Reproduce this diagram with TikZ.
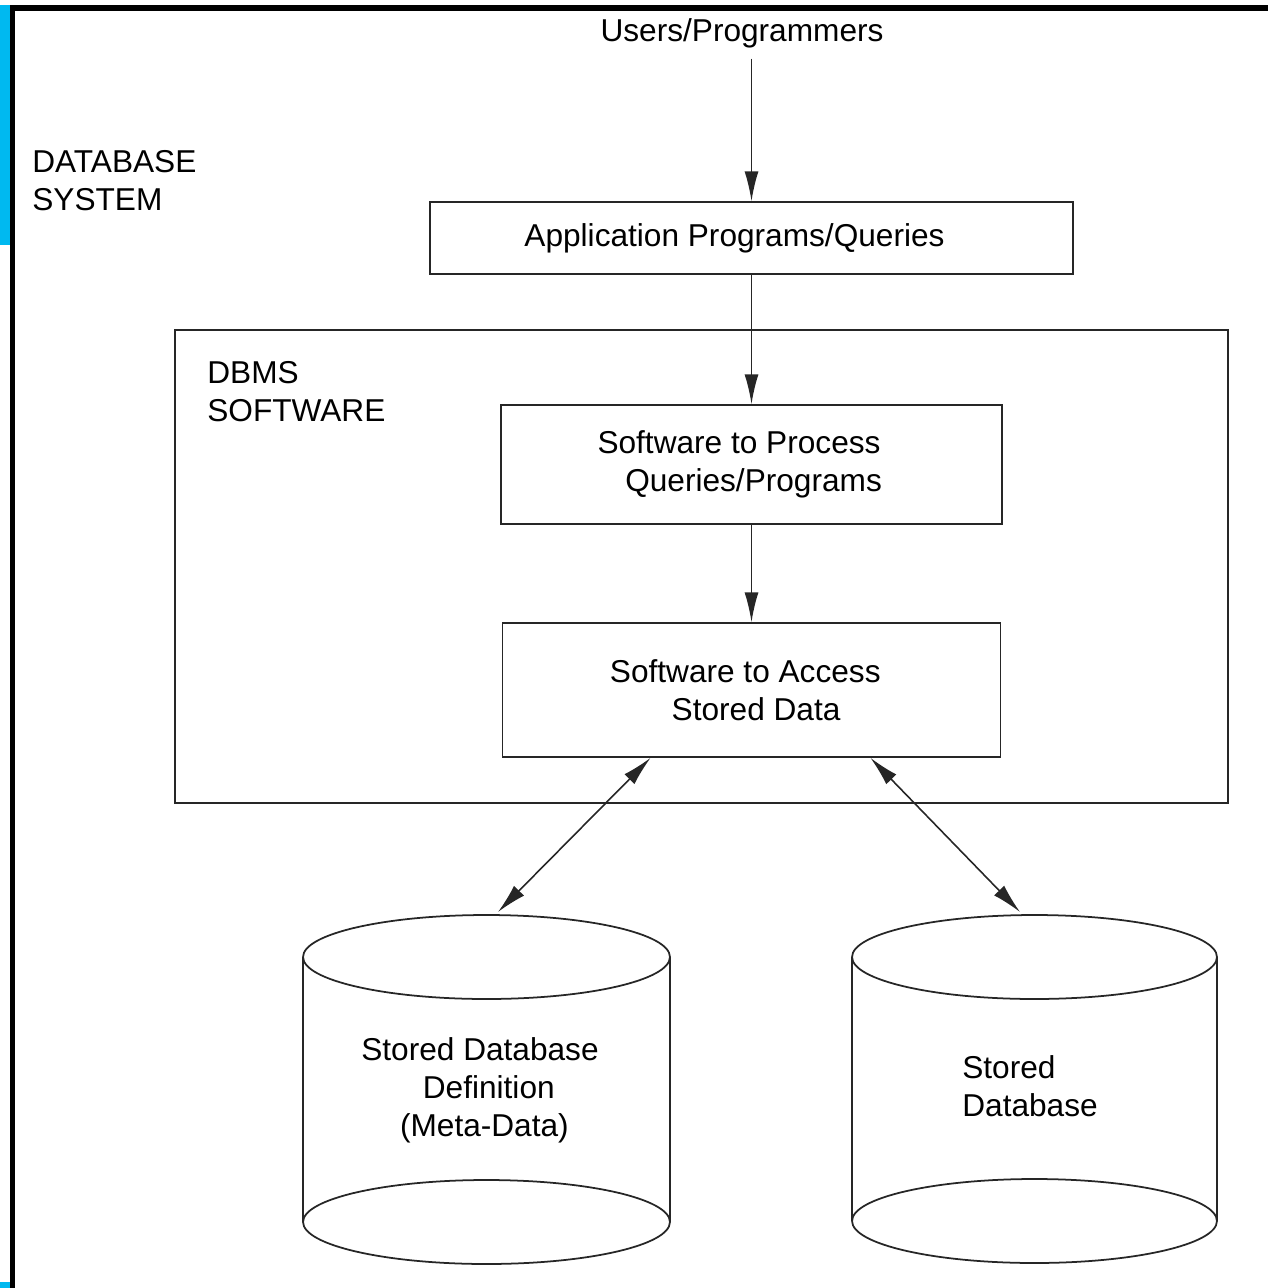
\documentclass[tikz,border=0pt]{standalone}
\usepackage{fontspec}
\setmainfont{Liberation Sans}
\usetikzlibrary{arrows.meta}
\usetikzlibrary{positioning}
\definecolor{frameblue}{RGB}{0,185,240}
\tikzset{%
	>={Latex[width=8pt,length=17pt]},
	% Specifications for style of nodes:
	base/.style = {rectangle, draw=black!85, line width=1pt,
				   text centered, align=center, font=\fontsize{18}{21.6}\selectfont},
	label/.style = {align=left, inner sep=0pt, font=\fontsize{18}{21.6}\selectfont},
	layer/.style = {base, minimum width=10cm, minimum height=2.5cm},
	link/.style = {draw=black!85, line width=0.9pt},
	drum/.style = {draw=black!85, line width=1pt},
}
\begin{document}
\begin{tikzpicture}[x=0.02cm, y=-0.02cm]
	\useasboundingbox (0,0) rectangle (1268,1288);

	% Page frame
	\fill[frameblue] (0,5) rectangle (10,245);
	\fill[frameblue] (0,1282) rectangle (10,1288);
	\fill[black] (10,5) rectangle (1268,11);
	\fill[black] (10,5) rectangle (15,1288);

	% Specification of nodes (position, etc.)

	\node (users)     [label, inner sep=6pt] at (742,33)   {Users/Programmers};
	\node (dbSystem)  [label, anchor=west]  at (32,181)   {DATABASE\\SYSTEM};
	\node (appProg)   [base, minimum width=12.86cm, minimum height=1.44cm] at (751.5,238) {Application Programs/Queries\hspace*{0.68cm}};
	\node (dbms)      [base, minimum width=21.06cm, minimum height=9.46cm] at (701.5,566.5) {};
	\node (dbmsLabel) [label, anchor=west]  at (207,392)  {DBMS\\SOFTWARE};
	\node (procSW)    [layer, minimum width=10.02cm, minimum height=2.38cm] at (751.5,464.5) {Software to Process\hspace*{0.5cm}\\ \quad Queries/Programs\hspace*{0.55cm}};
	\node (accessSW)  [layer, minimum width=9.96cm, minimum height=2.68cm] at (751.5,690) {Software to Access\hspace*{0.25cm}\\ \quad Stored Data\hspace*{0.45cm}};

	% Stored data cylinders
	\draw[drum] (486.5,957) ellipse [x radius=3.67cm, y radius=0.84cm];
	\draw[drum] (486.5,1222) ellipse [x radius=3.67cm, y radius=0.84cm];
	\draw[drum] (303,957) -- (303,1222) (670,957) -- (670,1222);
	\node (metaData)  [label, align=center] at (480,1090) {Stored Database\\ \; Definition\\ \;(Meta-Data)};
	\coordinate (metaTop) at (498,912);

	\draw[drum] (1034.5,957) ellipse [x radius=3.65cm, y radius=0.84cm];
	\draw[drum] (1034.5,1221) ellipse [x radius=3.65cm, y radius=0.84cm];
	\draw[drum] (852,957) -- (852,1221) (1217,957) -- (1217,1221);
	\node (storedDb)  [label, anchor=west] at (962,1086) {Stored\\Database};
	\coordinate (storedTop) at (1020,912);

	% Specification of lines between nodes specified above

	\draw[link, ->] (users.south -| appProg.north) -- (appProg.north);
	\draw[link, ->] (appProg.south) -- (procSW.north);
	\draw[link, ->] (procSW.south) -- (accessSW.north);
	\draw[link, <->] ([xshift=-2.02cm]accessSW.south) -- (metaTop);
	\draw[link, <->] ([xshift=2.38cm]accessSW.south) -- (storedTop);

\end{tikzpicture}
\end{document}
